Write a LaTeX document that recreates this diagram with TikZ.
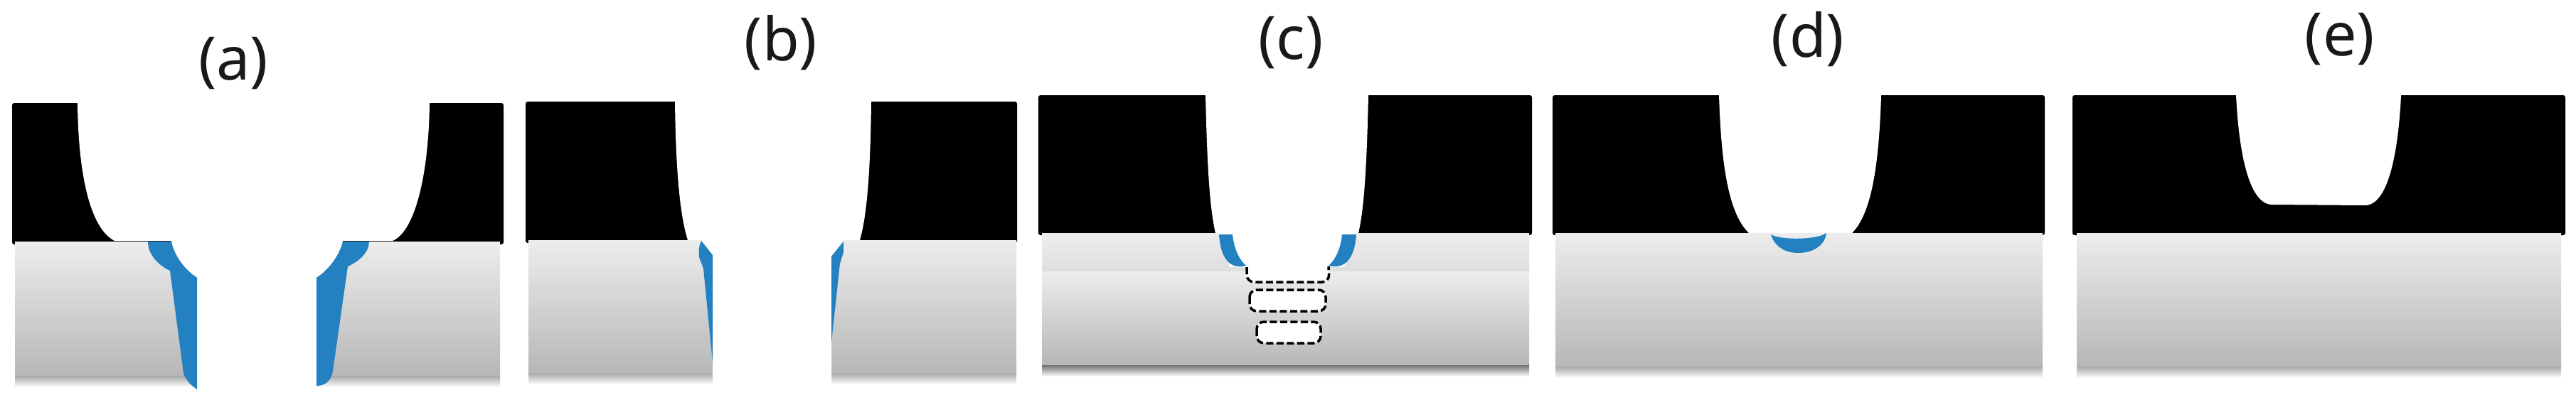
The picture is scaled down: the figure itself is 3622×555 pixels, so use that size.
\documentclass[tikz,border=0pt]{standalone}
\usepackage{fontspec}
\setmainfont{Noto Sans}
\definecolor{bluefilm}{HTML}{2381C1}
\definecolor{waferhi}{HTML}{EDEDED}
\definecolor{waferlo}{HTML}{B7B7B7}
\tikzset{
  film/.style={fill=black,rounded corners=0.6mm},
  hole/.style={fill=white},
  wafer/.style={top color=waferhi,bottom color=waferlo,draw=none},
  shadowbar/.style={top color=#1,bottom color=white,draw=none},
  shadowbar/.default={black!38},
  etch/.style={fill=bluefilm},
  voidbox/.style={draw=black,fill=white,line width=0.07cm,dash pattern=on 0.2cm off 0.09cm,rounded corners=0.2cm},
  panel/.style={font=\fontsize{48pt}{56pt}\selectfont,inner sep=0pt,text=black!90}
}
\begin{document}
\begin{tikzpicture}[x=0.02cm,y=-0.02cm]
\useasboundingbox (0,0) rectangle (3622,555);
\fill[white] (0,0) rectangle (3622,555);

% ---------- (a)
\node[panel] (la) at (328,89) {(a)};
\fill[film] (17,145) rectangle (708,344);
\fill[hole] (109,140) -- (109,145) .. controls (110,240) and (125,320) .. (161,339) -- (552,339) .. controls (585,325) and (603,240) .. (604,145) -- (604,140) -- cycle;
\shade[shadowbar] (21,527) rectangle (703,545);
\shade[wafer] (21,340) rectangle (703,528);
\fill[hole] (241,339) .. controls (245,360) and (260,380) .. (277,390) -- (277,550) -- (445,550) -- (445,390) .. controls (462,380) and (477,360) .. (482,339) -- cycle;
\fill[etch] (208,340) -- (241,340) .. controls (245,360) and (260,380) .. (277,391) -- (277,548) .. controls (268,542) and (261,535) .. (258,525) -- (239,381) .. controls (222,373) and (208,358) .. (208,340) -- cycle;
\fill[etch] (519,340) -- (482,340) .. controls (477,360) and (462,380) .. (445,391) -- (445,543) .. controls (458,543) and (466,535) .. (468,522) -- (489,375) .. controls (505,368) and (519,355) .. (519,340) -- cycle;

% ---------- (b)
\node[panel] (lb) at (1098,60) {(b)};
\fill[film] (739,143) rectangle (1430,342);
\fill[hole] (949,138) -- (949,143) .. controls (950,230) and (955,300) .. (967,338) -- (1209,338) .. controls (1220,300) and (1224,230) .. (1225,143) -- (1225,138) -- cycle;
\shade[shadowbar] (743,523) rectangle (1429,541);
\shade[wafer] (743,338) rectangle (1429,524);
\fill[hole] (986,337) -- (1002,360) -- (1002,545) -- (1169,545) -- (1169,360) -- (1186,337) -- cycle;
\fill[etch] (986,339) -- (1002,359) -- (1002,510) -- (989,378) -- (983,362) .. controls (982,352) and (983,345) .. (986,339) -- cycle;
\fill[etch] (1186,340) -- (1169,361) -- (1169,482) -- (1181,371) -- (1186,355) -- cycle;

% ---------- (c)
\node[panel] (lc) at (1815,60) {(c)};
\fill[film] (1460,134) rectangle (2154,331);
\fill[hole] (1695,129) -- (1695,134) .. controls (1697,220) and (1700,290) .. (1709,328) -- (1910,328) .. controls (1919,290) and (1922,220) .. (1924,134) -- (1924,129) -- cycle;
\shade[shadowbar={black!62}] (1465,512) rectangle (2150,530);
\shade[top color=waferhi,bottom color=black!13] (1465,328) rectangle (2150,382);
\shade[wafer] (1465,382) rectangle (2150,513);
\fill[hole] (1714,328) -- (1907,328) -- (1890,376) -- (1729,376) -- cycle;
\fill[etch] (1714,330) -- (1733,330) .. controls (1735,350) and (1742,365) .. (1752,374) .. controls (1728,380) and (1716,362) .. (1714,330) -- cycle;
\fill[etch] (1907,330) -- (1887,330) .. controls (1885,350) and (1878,365) .. (1868,374) .. controls (1892,380) and (1905,362) .. (1907,330) -- cycle;
\fill[white] (1752,370) -- (1868,370) -- (1868,390) -- (1862,397) -- (1760,397) -- (1753,390) -- cycle;
\draw[voidbox] (1753,376) -- (1753,397) -- (1869,397) -- (1868,375);
\draw[voidbox] (1757,408) rectangle (1864,438);
\draw[voidbox] (1767,453) rectangle (1857,483);

% ---------- (d)
\node[panel] (ld) at (2542,55) {(d)};
\fill[film] (2183,134) rectangle (2875,331);
\fill[hole] (2417,129) -- (2417,134) .. controls (2420,230) and (2430,300) .. (2459,328) -- (2604,328) .. controls (2632,300) and (2642,230) .. (2645,134) -- (2645,129) -- cycle;
\shade[shadowbar] (2187,514) rectangle (2872,532);
\shade[wafer] (2187,328) rectangle (2872,515);
\fill[etch] (2490,330) .. controls (2502,338) and (2555,338) .. (2568,328) .. controls (2566,345) and (2550,356) .. (2528,356) .. controls (2508,356) and (2494,345) .. (2490,330) -- cycle;

% ---------- (e)
\node[panel] (le) at (3290,55) {(e)};
\fill[film] (2914,134) rectangle (3607,331);
\fill[hole] (3144,129) -- (3144,134) .. controls (3148,215) and (3162,288) .. (3195,288) -- (3325,289) .. controls (3358,289) and (3372,215) .. (3376,134) -- (3376,129) -- cycle;
\shade[shadowbar] (2920,514) rectangle (3601,532);
\shade[wafer] (2920,328) rectangle (3601,515);
\end{tikzpicture}
\end{document}
